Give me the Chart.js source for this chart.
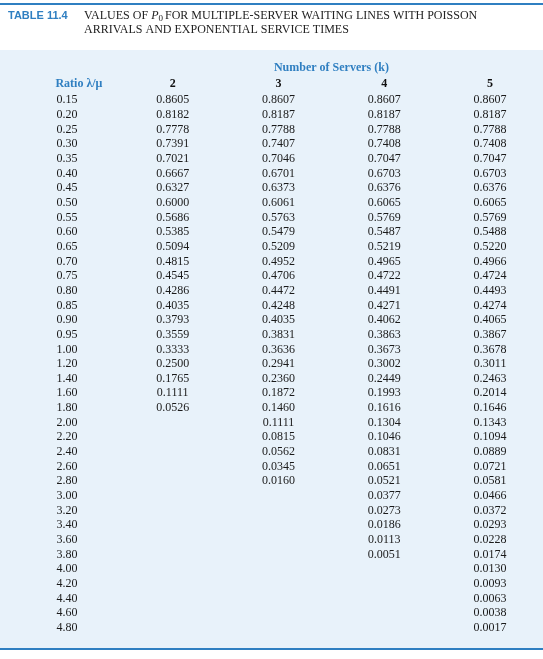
<!DOCTYPE html>
<html><head><meta charset="utf-8">
<script src="https://cdn.jsdelivr.net/npm/chart.js@4.4.0/dist/chart.umd.min.js"></script>
<style>body{margin:0;background:#fff}canvas{display:block}</style>
</head><body>
<canvas id="c" width="543" height="659"></canvas>
<script>
const ratios = ['0.15','0.20','0.25','0.30','0.35','0.40','0.45','0.50','0.55','0.60','0.65','0.70','0.75','0.80','0.85','0.90','0.95','1.00',
  '1.20','1.40','1.60','1.80','2.00','2.20','2.40','2.60','2.80','3.00','3.20','3.40','3.60','3.80','4.00','4.20','4.40','4.60','4.80'];
const columns = ['ratio', '2', '3', '4', '5'];
const k2 = ['0.8605','0.8182','0.7778','0.7391','0.7021','0.6667','0.6327','0.6000','0.5686','0.5385','0.5094','0.4815','0.4545','0.4286','0.4035','0.3793','0.3559','0.3333',
  '0.2500','0.1765','0.1111','0.0526'];
const k3 = ['0.8607','0.8187','0.7788','0.7407','0.7046','0.6701','0.6373','0.6061','0.5763','0.5479','0.5209','0.4952','0.4706','0.4472','0.4248','0.4035','0.3831','0.3636',
  '0.2941','0.2360','0.1872','0.1460','0.1111','0.0815','0.0562','0.0345','0.0160'];
const k4 = ['0.8607','0.8187','0.7788','0.7408','0.7047','0.6703','0.6376','0.6065','0.5769','0.5487','0.5219','0.4965','0.4722','0.4491','0.4271','0.4062','0.3863','0.3673',
  '0.3002','0.2449','0.1993','0.1616','0.1304','0.1046','0.0831','0.0651','0.0521','0.0377','0.0273','0.0186','0.0113','0.0051'];
const k5 = ['0.8607','0.8187','0.7788','0.7408','0.7047','0.6703','0.6376','0.6065','0.5769','0.5488','0.5220','0.4966','0.4724','0.4493','0.4274','0.4065','0.3867','0.3678',
  '0.3011','0.2463','0.2014','0.1646','0.1343','0.1094','0.0889','0.0721','0.0581','0.0466','0.0372','0.0293','0.0228','0.0174','0.0130','0.0093','0.0063','0.0038','0.0017'];

const BLUE = '#2f7fc1';
const SERIF = '"Liberation Serif", "DejaVu Serif", serif';
const cells = (col, vals) => vals.map((v, i) => ({ x: col, y: i, t: v }));
const ds = (col, vals) => ({ data: cells(col, vals), showLine: false, pointRadius: 0 });

const tablePlugin = {
  id: 'table',
  beforeDraw(chart) {
    const c = chart.ctx;
    c.save();
    c.fillStyle = '#e8f2fa';
    c.fillRect(0, 50, 543, 598);
    c.fillStyle = BLUE;
    c.fillRect(0, 3, 543, 2);
    c.fillRect(0, 648, 543, 2);
    c.textBaseline = 'middle';
    c.font = 'bold 11px "Liberation Sans", Arial, sans-serif';
    c.fillText('TABLE 11.4', 8, 16);
    c.fillStyle = '#222';
    c.font = '12px ' + SERIF;
    c.fillText('VALUES OF ', 84, 16);
    let w = c.measureText('VALUES OF ').width;
    c.font = 'italic 12px ' + SERIF;
    c.fillText('P', 84 + w, 16);
    w += c.measureText('P').width;
    c.font = '9px ' + SERIF;
    c.fillText('0', 84 + w, 19);
    w += c.measureText('0').width + 2;
    c.font = '12px ' + SERIF;
    c.fillText('FOR MULTIPLE-SERVER WAITING LINES WITH POISSON', 84 + w, 16);
    c.fillText('ARRIVALS AND EXPONENTIAL SERVICE TIMES', 84, 30);

    const xs = chart.scales.x;
    c.textAlign = 'center';
    c.fillStyle = BLUE;
    c.font = 'bold 12px ' + SERIF;
    c.fillText('Number of Servers (k)', (xs.getPixelForValue(2) + xs.getPixelForValue(3)) / 2, 68);
    c.fillText('Ratio λ/μ', xs.getPixelForValue(0) + 12, 84);
    c.fillStyle = '#111';
    columns.slice(1).forEach((k, i) => c.fillText(k, xs.getPixelForValue(i + 1), 84));
    c.restore();
  },
  afterDatasetsDraw(chart) {
    const c = chart.ctx;
    c.save();
    c.fillStyle = '#1a1a1a';
    c.font = '12px ' + SERIF;
    c.textAlign = 'center';
    c.textBaseline = 'middle';
    chart.data.datasets.forEach((d, di) => {
      chart.getDatasetMeta(di).data.forEach((pt, i) => c.fillText(d.data[i].t, pt.x, pt.y));
    });
    c.restore();
  }
};

new Chart(document.getElementById('c'), {
  type: 'line',
  data: {
    labels: columns,
    datasets: [ds('ratio', ratios), ds('2', k2), ds('3', k3), ds('4', k4), ds('5', k5)]
  },
  options: {
    responsive: false,
    animation: false,
    layout: { padding: { left: 14, right: 0, top: 93, bottom: 24 } },
    scales: {
      x: { type: 'category', display: false, offset: true },
      y: { type: 'linear', display: false, reverse: true, min: -0.5, max: ratios.length - 0.5 }
    },
    plugins: { legend: { display: false }, tooltip: { enabled: false } }
  },
  plugins: [tablePlugin]
});
</script>
</body></html>
